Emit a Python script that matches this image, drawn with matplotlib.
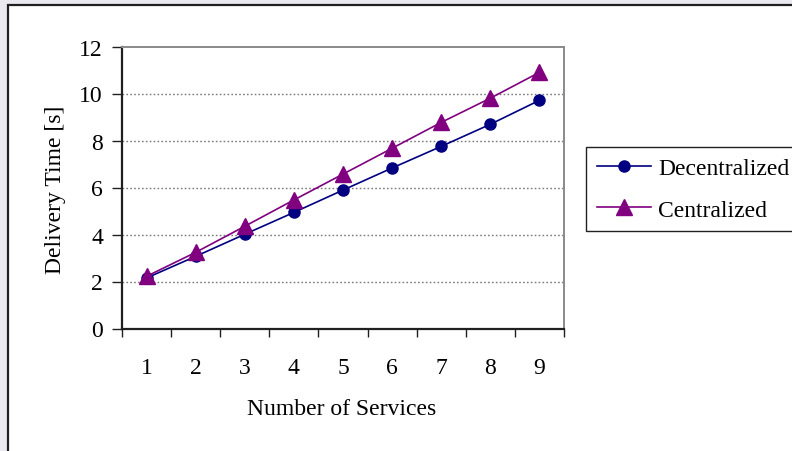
import matplotlib
matplotlib.use("Agg")
import matplotlib.pyplot as plt
from matplotlib.patches import Rectangle
import numpy as np

# Data
services = ["1", "2", "3", "4", "5", "6", "7", "8", "9"]
decentralized = [2.15, 3.07, 4.01, 4.94, 5.89, 6.83, 7.75, 8.69, 9.71]
centralized = [2.22, 3.24, 4.35, 5.47, 6.57, 7.67, 8.77, 9.80, 10.90]
y_ticks = [0, 2, 4, 6, 8, 10, 12]

W, H = 792, 452
DPI = 100
plt.rcParams["font.family"] = ["Liberation Serif", "DejaVu Serif"]

fig = plt.figure(figsize=(W / DPI, H / DPI), dpi=DPI)
fig.patch.set_facecolor("#e9e9ef")

# White chart area with dark frame (extends past right/bottom edges)
frame = Rectangle((8 / W, -0.05), 1.2, (H - 6) / H + 0.05,
                  transform=fig.transFigure, facecolor="white",
                  edgecolor="#202020", linewidth=1.6, zorder=-5)
fig.patches.append(frame)

left, right, top, bottom = 122, 564, 47.5, 329.5
ax = fig.add_axes([left / W, 1 - bottom / H, (right - left) / W, (bottom - top) / H])
ax.set_zorder(2)
ax.set_facecolor("white")

x = np.arange(len(services))
ax.plot(x, decentralized, color="#000080", linewidth=1.2, marker="o",
        markersize=8, label="Decentralized", zorder=3, clip_on=False)
ax.plot(x, centralized, color="#800080", linewidth=1.2, marker="^",
        markersize=11, label="Centralized", zorder=3, clip_on=False)

ax.set_xlim(-0.5, len(services) - 0.5)
ax.set_ylim(0, 12)

# Category boundaries as ticks, labels centred between them
ax.set_xticks(np.arange(-0.5, len(services), 1.0))
ax.set_xticklabels([])
ax.set_xticks(x, minor=True)
ax.set_xticklabels(services, minor=True)
ax.tick_params(axis="x", which="major", direction="out", length=6,
               width=1, color="#202020")
ax.tick_params(axis="x", which="minor", length=0, pad=20.5, labelsize=17)

ax.set_yticks(y_ticks)
ax.set_yticklabels([str(v) for v in y_ticks])
ax.tick_params(axis="y", direction="out", length=7, width=1,
               color="#202020", pad=6.7, labelsize=17)

for gy in y_ticks[1:-1]:
    ax.axhline(gy, color="#7a7a7a", linewidth=1.0, linestyle=(0, (1.2, 1.6)),
               zorder=1)

ax.spines["left"].set_color("#202020")
ax.spines["bottom"].set_color("#202020")
ax.spines["left"].set_linewidth(1.6)
ax.spines["bottom"].set_linewidth(1.6)
ax.spines["top"].set_color("#8a8a8a")
ax.spines["right"].set_color("#8a8a8a")
ax.spines["top"].set_linewidth(1.4)
ax.spines["right"].set_linewidth(1.4)

fig.text(55 / W, 1 - 190 / H, "Delivery Time [s]", rotation=90,
         ha="center", va="center", fontsize=17)
fig.text(342 / W, 1 - 410 / H, "Number of Services",
         ha="center", va="center", fontsize=17)

leg = ax.legend(loc="upper left", bbox_to_anchor=(586 / W, 1 - 148 / H),
                bbox_transform=fig.transFigure, fontsize=17, frameon=True,
                fancybox=False, edgecolor="#202020", framealpha=1,
                borderpad=0.45, labelspacing=0.85, handlelength=2.3,
                handletextpad=0.3, borderaxespad=0)
leg.get_frame().set_linewidth(1.0)

fig.savefig("out.png", dpi=DPI)
